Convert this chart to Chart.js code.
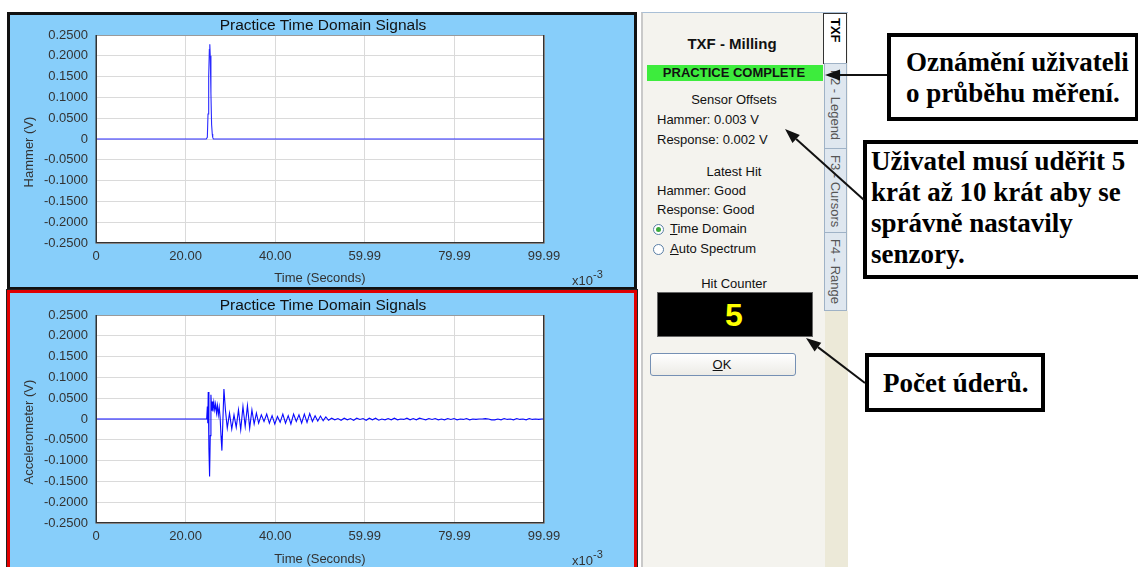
<!DOCTYPE html>
<html>
<head>
<meta charset="utf-8">
<script src="https://cdn.jsdelivr.net/npm/chart.js@4/dist/chart.umd.min.js"></script>
<style>
  html, body { margin: 0; padding: 0; background: #fff; }
  body { width: 1138px; height: 567px; position: relative; overflow: hidden; font-family: "Liberation Sans", Arial, sans-serif; }
  .abs { position: absolute; }
  .panel { position: absolute; background: #87cefa; box-sizing: border-box; }
  #topPanel { left: 7px; top: 12px; width: 630px; height: 278px; border: 3px solid #111; }
  #botPanel { left: 7px; top: 290px; width: 630px; height: 290px; border: 3px solid #e00000; outline: 1px solid #222; }
  canvas.sig { position: absolute; }
  .ptitle { position: absolute; font-size: 15.5px; color: #111; white-space: nowrap; transform: translate(-50%, -50%); }
  .ytitle { position: absolute; font-size: 13px; color: #333; white-space: nowrap; transform: translate(-50%, -50%) rotate(-90deg); }
  .scale { position: absolute; font-size: 13px; color: #333; white-space: nowrap; }
  .scale sup { font-size: 11px; position: relative; top: -2px; }
  #side { position: absolute; left: 641px; top: 12px; width: 207px; height: 560px; background: #f4f3ee; border-left: 2px solid #c9c9c9; border-top: 1px solid #a9bfd6; box-sizing: border-box; }
  .stext { position: absolute; font-size: 13px; color: #111; white-space: nowrap; }
  .ctr { transform: translateX(-50%); }
  .tab { position: absolute; box-sizing: border-box; writing-mode: vertical-rl; font-size: 13px; color: #555; display: flex; align-items: center; justify-content: flex-start; padding-top: 6px; }
  .note { position: absolute; box-sizing: border-box; border: 4px solid #000; background: #fff; font-family: "Liberation Serif", "Times New Roman", serif; font-weight: bold; font-size: 27px; line-height: 31px; color: #000; white-space: nowrap; }
</style>
</head>
<body>

<div class="panel" id="topPanel"></div>
<div class="panel" id="botPanel"></div>

<canvas class="sig" id="hammerChart" width="623" height="272" style="left:11px;top:14px;"></canvas>
<canvas class="sig" id="accelChart" width="623" height="273" style="left:11px;top:294px;"></canvas>

<div class="ptitle" style="left:323px;top:25px;">Practice Time Domain Signals</div>
<div class="ptitle" style="left:323px;top:305px;">Practice Time Domain Signals</div>
<div class="ytitle" style="left:28px;top:152px;">Hammer (V)</div>
<div class="ytitle" style="left:28px;top:432px;">Accelerometer (V)</div>
<div class="scale" style="left:572px;top:270px;">x10<sup>-3</sup></div>
<div class="scale" style="left:572px;top:550px;">x10<sup>-3</sup></div>

<div id="side"></div>
<!-- side tabs -->
<div class="abs" style="left:825px;top:311px;width:23px;height:260px;background:#ece9d8;"></div>
<div class="tab" style="left:823px;top:13px;width:24px;height:51px;background:#fff;border:1px solid #333;color:#000;font-weight:bold;padding-top:4px;">TXF</div>
<div class="tab" style="left:824px;top:63px;width:23px;height:86px;background:#dfe7ef;border:1px solid #9fb2c6;">F2 - Legend</div>
<div class="tab" style="left:824px;top:148px;width:23px;height:85px;background:#dfe7ef;border:1px solid #9fb2c6;">F3 - Cursors</div>
<div class="tab" style="left:824px;top:232px;width:23px;height:79px;background:#dfe7ef;border:1px solid #9fb2c6;">F4 - Range</div>

<div class="stext ctr" style="left:732px;top:35px;font-size:15px;font-weight:bold;">TXF - Milling</div>
<div class="abs" style="left:647px;top:65px;width:176px;height:16px;background:#3dec3d;"></div>
<div class="stext ctr" style="left:734px;top:65px;font-size:13px;font-weight:bold;line-height:16px;">PRACTICE COMPLETE</div>
<div class="stext ctr" style="left:734px;top:92px;">Sensor Offsets</div>
<div class="stext" style="left:657px;top:112px;">Hammer: 0.003 V</div>
<div class="stext" style="left:657px;top:132px;">Response: 0.002 V</div>
<div class="stext ctr" style="left:734px;top:164px;">Latest Hit</div>
<div class="stext" style="left:657px;top:183px;">Hammer: Good</div>
<div class="stext" style="left:657px;top:202px;">Response: Good</div>
<div class="abs" style="left:653px;top:224px;width:9px;height:9px;border:1px solid #5a7fa6;border-radius:50%;background:#fff;"></div>
<div class="abs" style="left:656px;top:227px;width:5px;height:5px;border-radius:50%;background:#3caa3c;"></div>
<div class="stext" style="left:670px;top:221px;"><u>T</u>ime Domain</div>
<div class="abs" style="left:653px;top:244px;width:9px;height:9px;border:1px solid #5a7fa6;border-radius:50%;background:#fff;"></div>
<div class="stext" style="left:670px;top:241px;"><u>A</u>uto Spectrum</div>
<div class="stext ctr" style="left:734px;top:276px;">Hit Counter</div>
<div class="abs" style="left:657px;top:292px;width:156px;height:45px;background:#000;border:1px solid #666;box-sizing:border-box;"></div>
<div class="stext ctr" style="left:734px;top:296px;font-size:32px;font-weight:bold;color:#ffff00;line-height:38px;">5</div>
<div class="abs" style="left:650px;top:353px;width:146px;height:23px;box-sizing:border-box;border:1px solid #7590b4;border-radius:3px;background:linear-gradient(#ffffff,#ecebe6);"></div>
<div class="stext ctr" style="left:722px;top:357px;"><u>O</u>K</div>

<!-- callouts -->
<div class="note" style="left:887px;top:33px;width:252px;height:88px;padding:10px 0 0 15px;">Oznámění uživateli<br>o průběhu měření.</div>
<div class="note" style="left:863px;top:140px;width:280px;height:139px;padding:2px 0 0 4px;">Uživatel musí uděřit 5<br>krát až 10 krát aby se<br>správně nastavily<br>senzory.</div>
<div class="note" style="left:865px;top:353px;width:180px;height:59px;padding:11px 0 0 14px;">Počet úderů.</div>
<svg id="arrows" class="abs" style="left:0;top:0;" width="1138" height="567"></svg>

<script>
// Horizontal axis: time in milliseconds (x10^-3 s)
const xTickValues = [0, 19.998, 39.996, 59.994, 79.992, 99.99];
const xTickLabels = ['0', '20.00', '40.00', '59.99', '79.99', '99.99'];
// Vertical axis: volts
const yTickValues = [-0.25, -0.2, -0.15, -0.1, -0.05, 0, 0.05, 0.1, 0.15, 0.2, 0.25];
const yTickLabels = ['-0.2500', '-0.2000', '-0.1500', '-0.1000', '-0.0500', '0', '0.0500', '0.1000', '0.1500', '0.2000', '0.2500'];

// Hammer channel: single impact pulse
const hammerTime  = [0, 24.6, 24.85, 25.0, 25.15, 25.3, 25.4, 25.5, 25.65, 25.8, 25.95, 26.05, 26.2, 99.99];
const hammerVolts = [0, 0, 0.004, 0.06, 0.15, 0.215, 0.228, 0.2, 0.11, 0.035, 0.012, 0.004, 0, 0];

// Accelerometer channel: response ringing after the impact
const accelTime = [
  0, 24.7, 24.85, 24.95, 25.05, 25.2, 25.35, 25.5, 25.65, 25.8,
  25.95, 26.1, 26.3, 26.5, 26.7, 26.9, 27.1, 27.3, 27.5, 27.7,
  27.9, 28.1, 28.3, 28.55, 28.9, 29.3, 29.8, 30.3, 30.8, 31.3,
  31.8, 32.3, 32.8, 33.3, 33.8, 34.3, 34.8, 35.3, 35.8, 36.3,
  36.9, 37.5, 38.1, 38.7, 39.3, 39.9, 40.5, 41.1, 41.7, 42.3,
  42.9, 43.5, 44.1, 44.7, 45.3, 45.9, 46.5, 47.1, 47.7, 48.3,
  48.9, 49.5, 50.1, 50.7, 51.3, 51.9, 52.6, 53.3, 54.0, 54.7,
  55.4, 56.1, 56.8, 57.5, 58.2, 58.9, 59.6, 60.3, 61.0, 61.7,
  62.4, 63.1, 63.8, 64.5, 65.2, 65.9, 66.6, 67.3, 68.0, 68.7,
  69.4, 70.1, 70.8, 71.5, 72.2, 72.9, 73.6, 74.3, 75.0, 75.7,
  76.4, 77.1, 77.8, 78.5, 79.2, 79.9, 80.6, 81.3, 82.0, 82.7,
  83.4, 84.1, 84.8, 85.5, 86.2, 86.9, 87.6, 88.3, 89.0, 89.7,
  90.4, 91.1, 91.8, 92.5, 93.2, 93.9, 94.6, 95.3, 96.0, 96.7,
  97.4, 98.1, 98.8, 99.5, 99.99
];
const accelVolts = [
  0, 0, 0.03, -0.01, 0.065, -0.07, -0.138, -0.04, 0.058, 0.02,
  0.042, 0.018, 0.04, 0.022, 0.036, 0.014, 0.032, 0.01, 0.028, 0.004,
  -0.04, -0.076, -0.01, 0.072, 0.02, -0.022, 0.014, -0.024, 0.01, -0.02,
  0.022, -0.026, 0.03, -0.018, 0.032, -0.022, 0.022, -0.012, 0.014, -0.01,
  0.01, -0.006, 0.012, -0.01, 0.008, -0.012, 0.006, -0.008, 0.012, -0.01,
  0.008, -0.012, 0.012, -0.006, 0.01, -0.01, 0.012, -0.008, 0.013, -0.006,
  0.008, -0.005, 0.007, -0.004, 0.005, -0.003, 0.002, -0.002, 0.001, -0.003,
  0.002, -0.002, 0.001, -0.003, 0.002, -0.001, 0.001, -0.003, 0.002, -0.002,
  0.002, -0.003, 0, -0.002, 0.001, -0.002, 0.002, -0.002, 0, -0.001,
  0.002, -0.002, 0.001, -0.002, 0.002, 0, -0.002, 0.001, -0.001, 0.001,
  -0.002, 0, -0.002, 0.001, -0.001, 0.001, -0.002, 0, -0.001, 0.001,
  -0.002, 0, -0.001, 0, 0, 0.001, 0, -0.002, -0.002, 0,
  -0.002, 0.001, -0.001, 0, -0.002, 0.001, -0.001, 0, -0.002, 0.001,
  -0.001, 0, -0.001, 0, 0
];

const uiFont = 'Liberation Sans, Arial, sans-serif';
Chart.defaults.font.family = uiFont;

// White plot area with a dark frame around it
const plotFrame = {
  id: 'plotFrame',
  beforeDraw(chart) {
    const a = chart.chartArea, ctx = chart.ctx;
    ctx.save();
    ctx.fillStyle = '#ffffff';
    ctx.fillRect(a.left, a.top, a.right - a.left, a.bottom - a.top);
    ctx.restore();
  },
  afterDraw(chart) {
    const a = chart.chartArea, ctx = chart.ctx;
    ctx.save();
    ctx.strokeStyle = '#9a9a9a';
    ctx.lineWidth = 1;
    ctx.beginPath();
    ctx.moveTo(a.left, a.top + 0.5);
    ctx.lineTo(a.right, a.top + 0.5);
    ctx.stroke();
    ctx.strokeStyle = '#333333';
    ctx.lineWidth = 1.5;
    ctx.beginPath();
    ctx.moveTo(a.left + 0.25, a.top);
    ctx.lineTo(a.left + 0.25, a.bottom - 0.25);
    ctx.lineTo(a.right - 0.25, a.bottom - 0.25);
    ctx.lineTo(a.right - 0.25, a.top);
    ctx.stroke();
    ctx.restore();
  }
};

function signalChart(id, times, volts, colour, axisHeight) {
  return new Chart(document.getElementById(id), {
    type: 'line',
    data: {
      datasets: [{
        data: times.map((t, i) => ({ x: t, y: volts[i] })),
        borderColor: colour,
        borderWidth: 1.1,
        pointRadius: 0,
        tension: 0,
        fill: false
      }]
    },
    options: {
      responsive: false,
      animation: false,
      layout: { padding: { top: 21, right: 90, bottom: 0, left: 0 } },
      plugins: { legend: { display: false }, tooltip: { enabled: false }, title: { display: false } },
      scales: {
        x: {
          type: 'linear', min: 0, max: 99.99,
          afterBuildTicks: s => { s.ticks = xTickValues.map(v => ({ value: v })); },
          afterFit: s => { s.height = axisHeight; },
          ticks: { autoSkip: false, maxRotation: 0, padding: 6, color: '#333', font: { size: 13 },
                   callback: (v, i) => xTickLabels[i] },
          grid: { color: '#dadada', drawTicks: false },
          border: { display: false },
          title: { display: true, text: 'Time (Seconds)', color: '#333', font: { size: 13 }, padding: 0 }
        },
        y: {
          type: 'linear', min: -0.25, max: 0.25,
          afterBuildTicks: s => { s.ticks = yTickValues.map(v => ({ value: v })); },
          afterFit: s => { s.width = 85; },
          ticks: { autoSkip: false, padding: 8, color: '#333', font: { size: 13 },
                   callback: (v, i) => yTickLabels[i] },
          grid: { color: '#dadada', drawTicks: false },
          border: { display: false }
        }
      }
    },
    plugins: [plotFrame]
  });
}

signalChart('hammerChart', hammerTime, hammerVolts, '#2a2aff', 43);
signalChart('accelChart', accelTime, accelVolts, '#0a0aff', 44);

// Callout arrows
const svg = document.getElementById('arrows');
function arrow(x1, y1, x2, y2) {
  const dx = x2 - x1, dy = y2 - y1, len = Math.hypot(dx, dy);
  const ux = dx / len, uy = dy / len, head = 15, half = 5.5;
  const bx = x2 - ux * head, by = y2 - uy * head;
  const ns = 'http://www.w3.org/2000/svg';
  const line = document.createElementNS(ns, 'line');
  line.setAttribute('x1', x1); line.setAttribute('y1', y1);
  line.setAttribute('x2', bx); line.setAttribute('y2', by);
  line.setAttribute('stroke', '#111'); line.setAttribute('stroke-width', '2');
  svg.appendChild(line);
  const poly = document.createElementNS(ns, 'polygon');
  poly.setAttribute('points', `${x2},${y2} ${bx - uy * half},${by + ux * half} ${bx + uy * half},${by - ux * half}`);
  poly.setAttribute('fill', '#111');
  svg.appendChild(poly);
}
arrow(887, 75, 825, 75);
arrow(864, 200, 785, 129);
arrow(865, 383, 806, 338);
</script>
</body>
</html>
